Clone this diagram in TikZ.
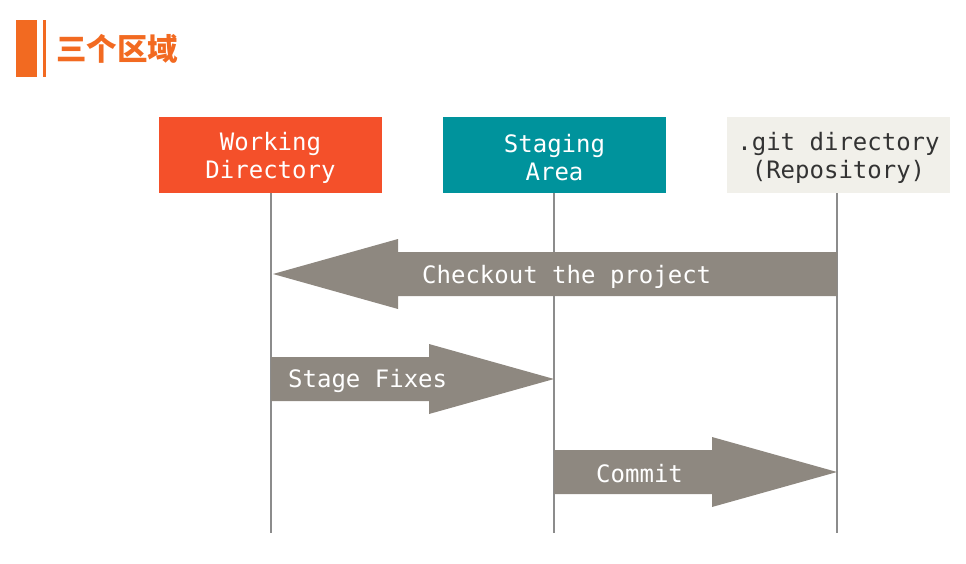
\documentclass[tikz,border=0pt]{standalone}
\usepackage{fontspec}
\setmonofont{DejaVu Sans Mono}
\newfontfamily\cjk{Noto Sans CJK SC}
\usetikzlibrary{calc}
\definecolor{wdcol}{HTML}{F4502A}
\definecolor{sacol}{HTML}{00939C}
\definecolor{gitcol}{HTML}{F1F0EA}
\definecolor{arrcol}{HTML}{8E8880}
\definecolor{linecol}{HTML}{8C8C8C}
\definecolor{titlecol}{HTML}{F26A21}
\definecolor{darktext}{HTML}{333333}
\tikzset{
  areabox/.style={minimum width=223pt, minimum height=76pt, inner sep=0pt},
  boxtext/.style={inner sep=0pt, align=center, font=\fontsize{24}{28}\selectfont\ttfamily},
  lifeline/.style={draw=linecol, line width=2pt},
  fatarrow/.style={fill=arrcol, draw=none},
  arrlabel/.style={anchor=west, inner sep=0pt, text=white, font=\fontsize{24}{28}\selectfont\ttfamily}
}
\begin{document}
\begin{tikzpicture}[x=1pt,y=-1pt]
\useasboundingbox (0,0) rectangle (966,564);
% title
\fill[titlecol] (16,20) rectangle (37,77);
\fill[titlecol] (43,20) rectangle (46,77);
\node[anchor=west, inner sep=0pt, text=titlecol, font=\fontsize{30.5}{33}\selectfont\cjk\bfseries] (title) at (56,49) {三个区域};
% boxes
\node[areabox, fill=wdcol] (wd) at (270.5,155) {};
\node[areabox, fill=sacol] (sa) at (554.5,155) {};
\node[areabox, fill=gitcol] (git) at (838.5,155) {};
\node[boxtext, text=white] (wdtext) at ($(wd.center)+(0,2.5)$) {Working\\Directory};
\node[boxtext, text=white] (satext) at ($(sa.center)+(0,2.5)$) {Staging\\Area};
\node[boxtext, text=darktext] (gittext) at ($(git.center)+(0,2.5)$) {.git directory\\(Repository)};
% lifeline ends
\coordinate (wdend) at (271,533);
\coordinate (saend) at (554,533);
\coordinate (gitend) at (837,533);
\draw[lifeline] (wd.south -| wdend) -- (wdend);
\draw[lifeline] (sa.south -| saend) -- (saend);
\draw[lifeline] (git.south -| gitend) -- (gitend);
% arrow anchor points on lifelines
\coordinate (co-start) at (837,274);
\coordinate (co-tip) at (273,274);
\coordinate (sf-start) at (271,379);
\coordinate (sf-tip) at (554,379);
\coordinate (cm-start) at (554,472);
\coordinate (cm-tip) at (837,472);
% checkout arrow (leftwards)
\fill[fatarrow] (co-start) ++(0,-22) -- ($(co-tip)+(125,-22)$) -- ($(co-tip)+(125,-35)$) -- (co-tip)
  -- ($(co-tip)+(125,35)$) -- ($(co-tip)+(125,22)$) -- ($(co-start)+(0,22)$) -- cycle;
% stage fixes arrow
\fill[fatarrow] (sf-start) ++(0,-22) -- ($(sf-tip)+(-125,-22)$) -- ($(sf-tip)+(-125,-35)$) -- (sf-tip)
  -- ($(sf-tip)+(-125,35)$) -- ($(sf-tip)+(-125,22)$) -- ($(sf-start)+(0,22)$) -- cycle;
% commit arrow
\fill[fatarrow] (cm-start) ++(0,-22) -- ($(cm-tip)+(-125,-22)$) -- ($(cm-tip)+(-125,-35)$) -- (cm-tip)
  -- ($(cm-tip)+(-125,35)$) -- ($(cm-tip)+(-125,22)$) -- ($(cm-start)+(0,22)$) -- cycle;
% labels
\node[arrlabel] (colab) at (422,276.5) {Checkout the project};
\node[arrlabel] (sflab) at (288,381) {Stage Fixes};
\node[arrlabel] (cmlab) at (596,474) {Commit};
\end{tikzpicture}
\end{document}
